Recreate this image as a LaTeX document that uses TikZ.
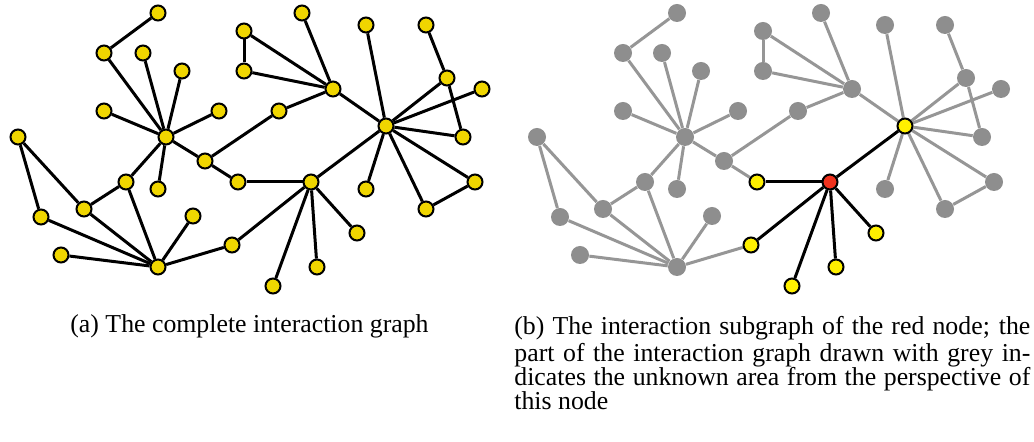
\documentclass[tikz,border=0pt]{standalone}
\usepackage{fontspec}
\setmainfont{Liberation Serif}
\pgfdeclarelayer{bg}
\pgfsetlayers{bg,main}
\definecolor{goldyellow}{RGB}{240,214,0}
\definecolor{brightyellow}{RGB}{255,240,0}
\definecolor{rednode}{RGB}{240,50,30}
\definecolor{greynode}{RGB}{142,142,142}
\definecolor{greyedge}{RGB}{150,150,150}
\begin{document}
\begin{tikzpicture}[x=0.5pt,y=-0.5pt,
  bedge/.style={line width=1.5pt,draw=black},
  gedge/.style={line width=1.5pt,draw=greyedge},
  lnode/.style={circle,draw=black,line width=1pt,fill=goldyellow,minimum size=7.5pt,inner sep=0pt},
  ry/.style={circle,draw=black,line width=1pt,fill=brightyellow,minimum size=7.5pt,inner sep=0pt},
  rr/.style={circle,draw=black,line width=1pt,fill=rednode,minimum size=7.5pt,inner sep=0pt},
  rg/.style={circle,fill=greynode,minimum size=9pt,inner sep=0pt},
  captext/.style={inner sep=0pt,font={\fontsize{12.9pt}{12pt}\selectfont}}]
\useasboundingbox (0,0) rectangle (1034,442);
\def\nodelist{A1/158/13/g, A2/104/53/g, A3/143/53/g, A4/182/71/g, A5/104/111/g,
  A6/219/111/g, H1/166/137/g, A7/18/137/g, B1/302/13/g, B2/244/31/g, B3/244/71/g,
  H2/333/89/g, B4/366/25/g, B5/426/25/g, B6/447/78/g, B7/482/89/g, B8/463/137/g,
  H3/386/126/y, B9/279/111/g, C1/126/182/g, C2/158/189/g, C3/205/161/g, C4/238/182/y,
  C5/84/209/g, C6/41/217/g, C7/193/216/g, C8/61/255/g, H4/158/267/g, C9/232/245/y,
  H5/311/182/r, D1/366/189/g, D2/426/209/g, D3/475/182/g, D4/357/233/y,
  D5/317/267/y, D6/273/286/y}
\def\edgelist{A1/A2/g, A2/H1/g, A3/H1/g, A4/H1/g, A5/H1/g, A6/H1/g, C1/H1/g,
  C2/H1/g, H1/C3/g, C3/C4/g, C3/B9/g, B9/H2/g, H2/B1/g, H2/B2/g, H2/B3/g, B2/B3/g,
  H2/H3/g, H3/B4/g, H3/B6/g, B6/B5/g, B6/B8/g, H3/B7/g, H3/B8/g, H3/D1/g, H3/D2/g,
  H3/D3/g, D2/D3/g, C9/H4/g, C7/H4/g, C1/H4/g, C5/H4/g, C6/H4/g, C8/H4/g,
  A7/C6/g, A7/C5/g, C5/C1/g, H3/H5/b, C4/H5/b, H5/C9/b, H5/D4/b, H5/D5/b, H5/D6/b}
\foreach \n/\x/\y/\s in \nodelist {
  \node[lnode] (L\n) at (\x,\y) {};
  \node[r\s] (R\n) at ({\x+519},\y) {};
}
\begin{pgfonlayer}{bg}
\foreach \a/\b/\s in \edgelist {
  \draw[bedge] (L\a) -- (L\b);
  \draw[\s edge] (R\a) -- (R\b);
}
\end{pgfonlayer}
\node[captext,anchor=base west] (capa) at (70,333) {(a) The complete interaction graph};
\node[captext,anchor=north west,text width=258pt,align=justify] (capb) at (514,316)
  {\strut(b) The interaction subgraph of the red node; the\linebreak
   part of the interaction graph drawn with grey in-\linebreak
   dicates the unknown area from the perspective of\linebreak
   this node};
\end{tikzpicture}
\end{document}
